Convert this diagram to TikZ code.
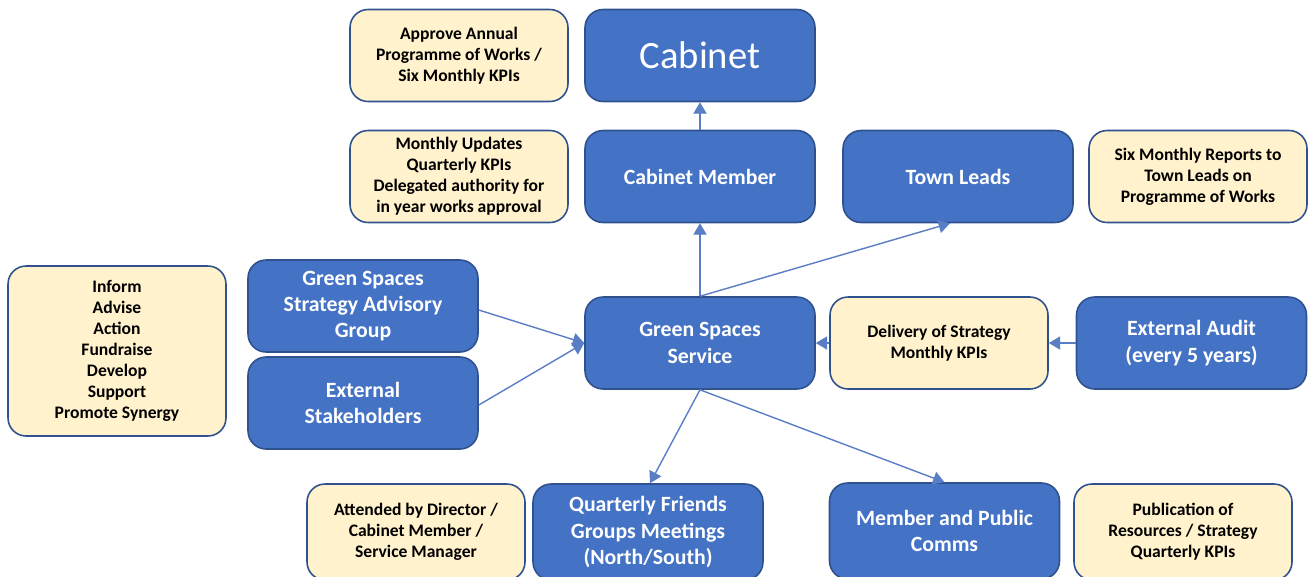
\documentclass[tikz,border=0pt]{standalone}
\usepackage{fontspec}
\setmainfont{Carlito}
\usepackage{xcolor}
\usetikzlibrary{shapes,arrows.meta,positioning}

\definecolor{boxblue}{HTML}{4472C4}
\definecolor{boxedge}{HTML}{2F528F}
\definecolor{notefill}{HTML}{FFF2CC}
\definecolor{linkblue}{HTML}{5A7EC6}

\tikzstyle{bluebox} = [draw=boxedge, fill=boxblue, line width=0.9pt, rounded corners=0.36cm,
    minimum width=4.6cm, minimum height=1.84cm, inner sep=0pt, align=center, text=white,
    font=\fontsize{12.4}{15}\selectfont\bfseries]
\tikzstyle{notebox} = [draw=boxedge, fill=notefill, line width=0.9pt, rounded corners=0.36cm,
    minimum width=4.36cm, minimum height=1.84cm, inner sep=0pt, align=center, text=black,
    font=\fontsize{10}{11.9}\selectfont\bfseries]
\tikzstyle{line} = [draw=linkblue, line width=0.8pt, -{Triangle[width=7.5pt,length=6.5pt]}]

\begin{document}
\begin{tikzpicture}[x=0.02cm, y=-0.02cm]
    \useasboundingbox (0,0) rectangle (1314,576);
    % Place nodes
    \node [notebox] (approve) at (459,55.5) {Approve Annual\\Programme of Works /\\Six Monthly KPIs};
    \node [bluebox, font=\fontsize{22}{26}\selectfont] (cabinet) at (700,55.5) {Cabinet};
    \node [notebox] (updates) at (459,176.5) {Monthly Updates\\Quarterly KPIs\\Delegated authority for\\in year works approval};
    \node [bluebox] (member) at (700,176.5) {Cabinet Member};
    \node [bluebox] (town) at (958,176.5) {Town Leads};
    \node [notebox] (reports) at (1198,176.5) {Six Monthly Reports to\\Town Leads on\\Programme of Works};
    \node [notebox, minimum height=3.4cm] (roles) at (117,351) {Inform\\Advise\\Action\\Fundraise\\Develop\\Support\\Promote Synergy};
    \node [bluebox] (advisory) at (363,306) {Green Spaces\\Strategy Advisory\\Group};
    \node [bluebox] (stake) at (363,403) {External\\Stakeholders};
    \node [bluebox] (service) at (700,343) {Green Spaces\\Service};
    \node [notebox] (delivery) at (939,343) {Delivery of Strategy\\Monthly KPIs};
    \node [bluebox] (audit) at (1191.5,343) {External Audit\\(every 5 years)};
    \node [notebox, minimum height=1.92cm] (attended) at (416,532) {Attended by Director /\\Cabinet Member /\\Service Manager};
    \node [bluebox, minimum height=1.92cm] (friends) at (648,532) {Quarterly Friends\\Groups Meetings\\(North/South)};
    \node [bluebox, minimum height=1.92cm] (comms) at (944.5,531) {Member and Public\\Comms};
    \node [notebox, minimum height=1.92cm] (publish) at (1183,532) {Publication of\\Resources / Strategy\\Quarterly KPIs};

    \path [line] (member) -- (cabinet);
    \path [line] (service) -- (member);
    \path [line] (service.north) -- ([xshift=-0.16cm]town.south);
    \path [line] ([yshift=-0.08cm]advisory.east) -- (service.west);
    \path [line] ([yshift=-0.04cm]stake.east) -- (service.west);
    \path [line] (delivery) -- (service);
    \path [line] (audit) -- (delivery);
    \path [line] (service.south) -- ([xshift=0.04cm]friends.north);
    \path [line] (service.south) -- (comms.north);

\end{tikzpicture}
\end{document}
